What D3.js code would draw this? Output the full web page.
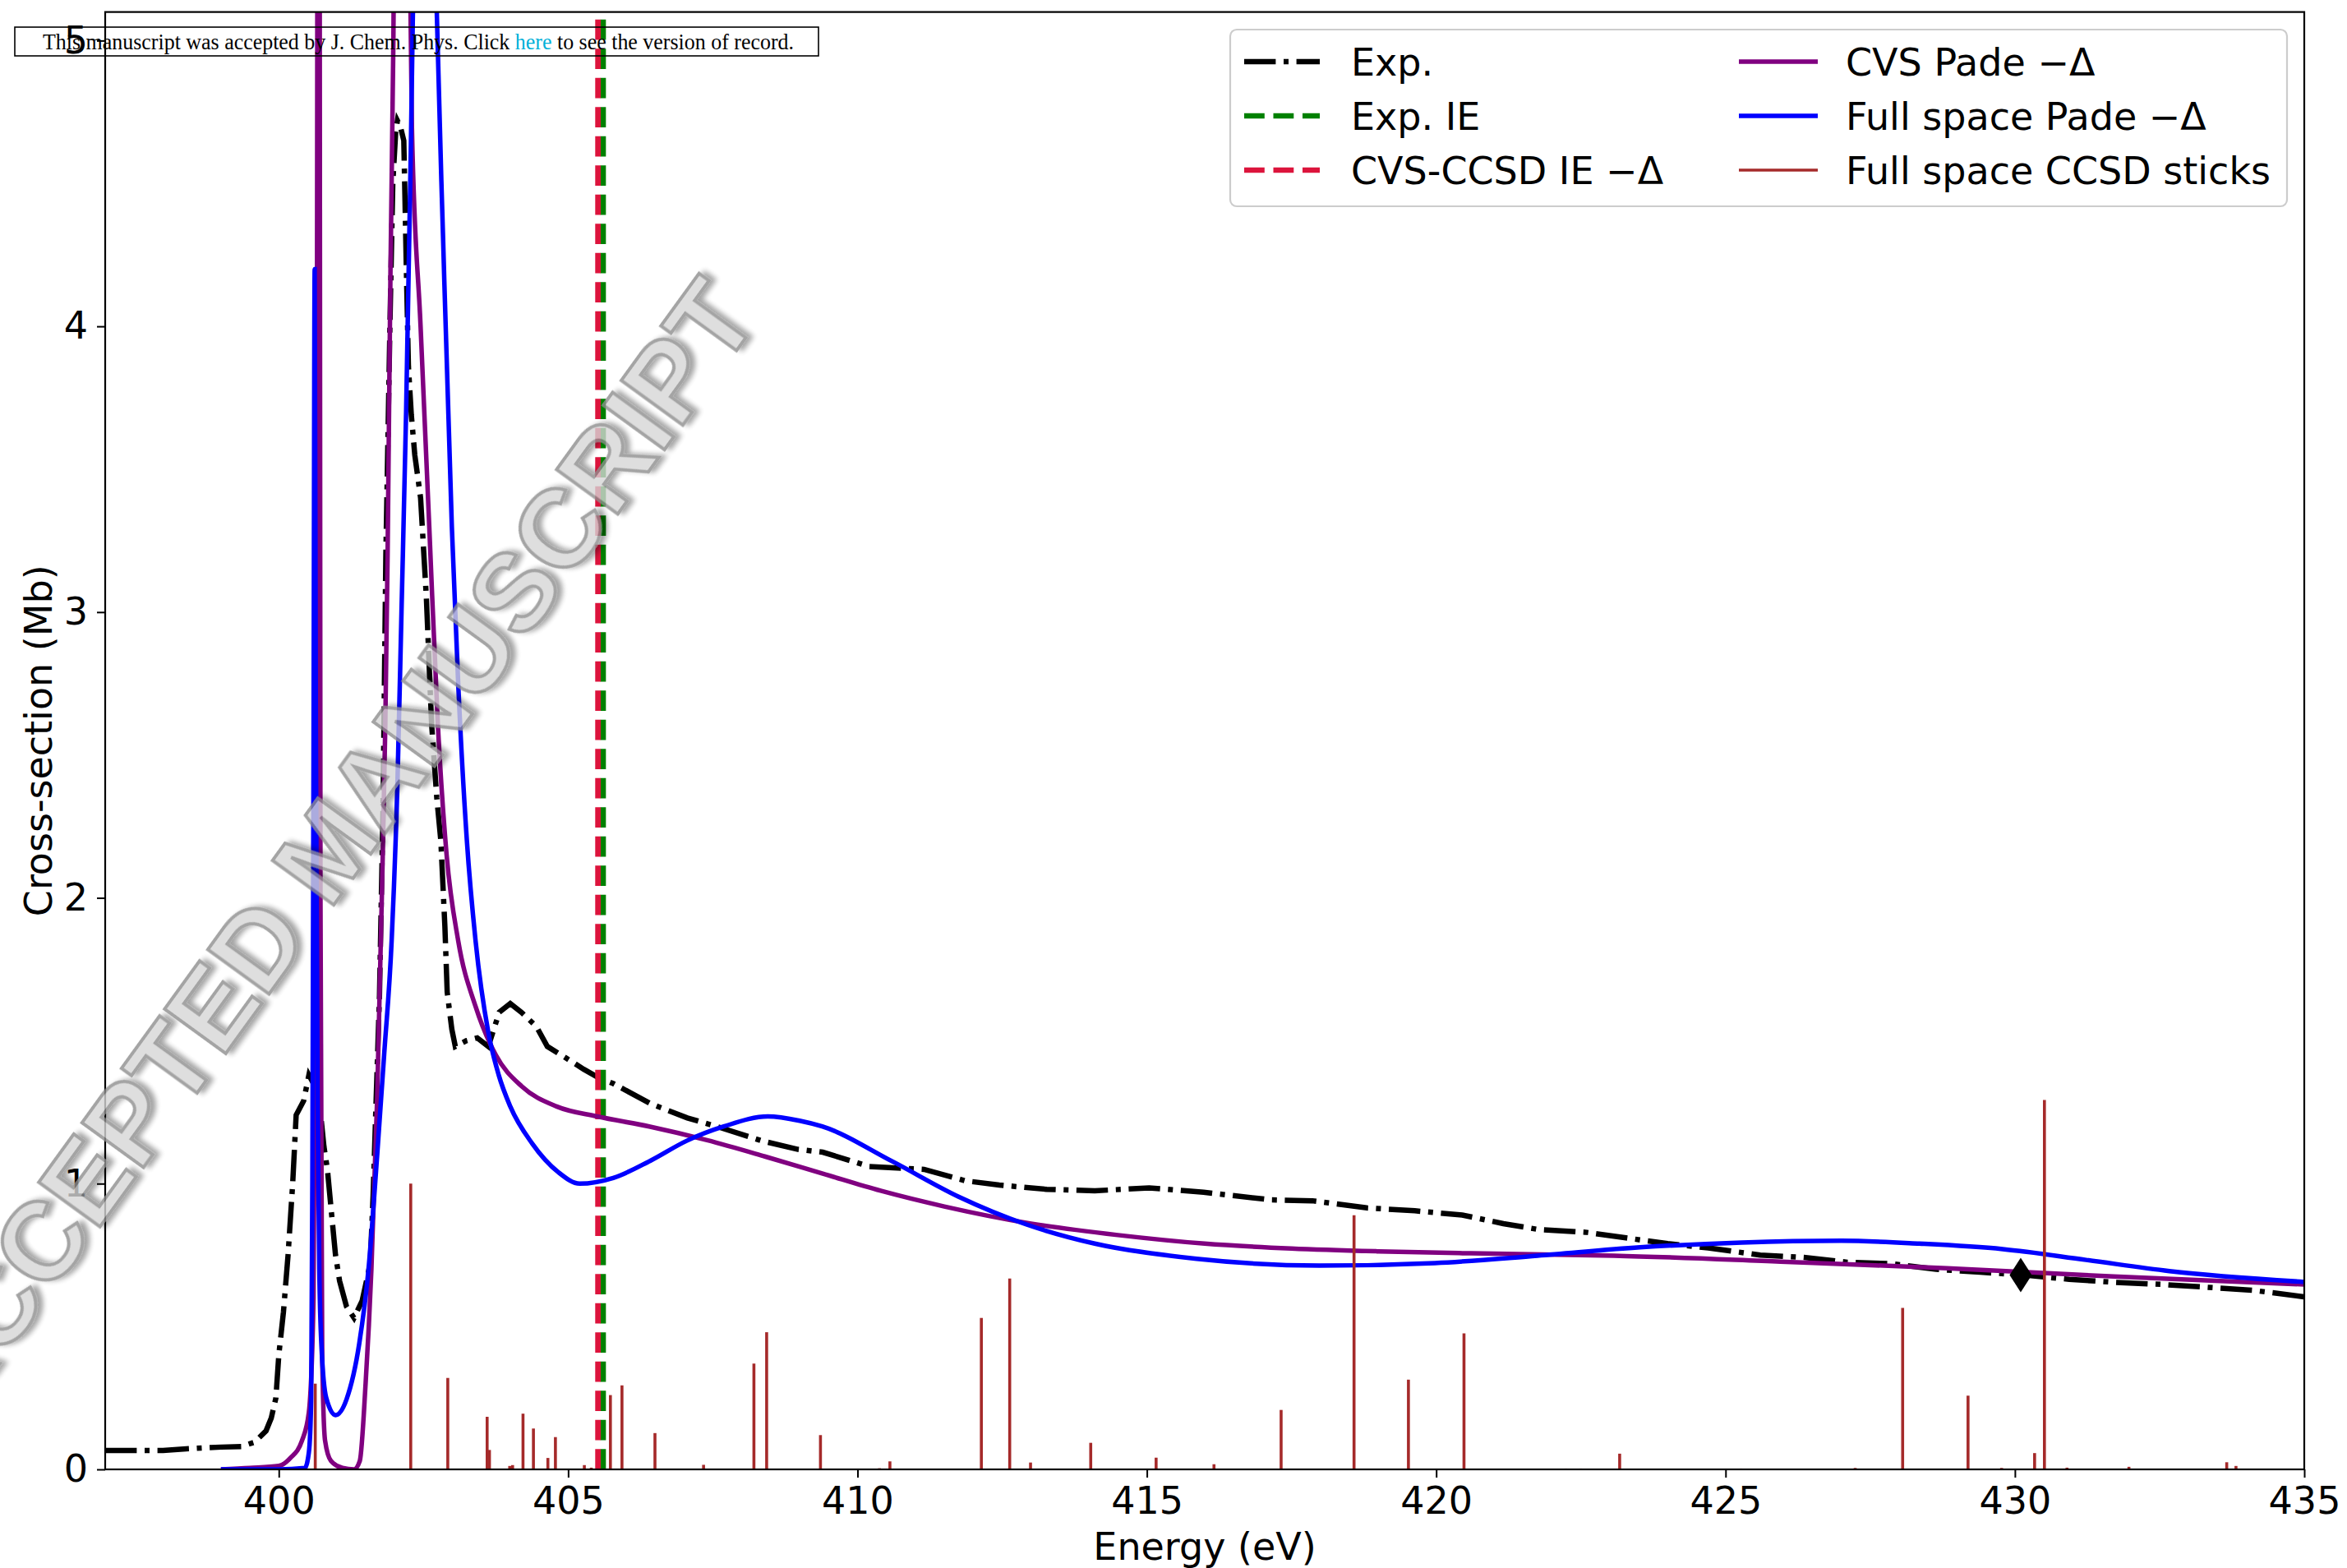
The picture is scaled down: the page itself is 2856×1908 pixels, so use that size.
<!DOCTYPE html>
<html>
<head>
<meta charset="utf-8">
<script src="https://cdn.jsdelivr.net/npm/d3@7"></script>
<style>
  html, body { margin: 0; padding: 0; background: #ffffff; }
  svg { display: block; }
</style>
</head>
<body>
<script>
// ---- data -------------------------------------------------------------
const expEnergy = [397.0, 397.6, 398.0, 398.4, 399.0, 399.35, 399.58, 399.78, 399.87, 399.95, 400.0, 400.08, 400.16, 400.24, 400.3, 400.43, 400.52, 400.6, 400.68, 400.73, 400.78, 400.84, 400.9, 400.98, 401.05, 401.17, 401.3, 401.44, 401.58, 401.63, 401.68, 401.74, 401.8, 401.85, 401.92, 401.97, 402.02, 402.05, 402.1, 402.16, 402.18, 402.2, 402.24, 402.29, 402.35, 402.45, 402.55, 402.64, 402.73, 402.8, 402.87, 402.91, 402.99, 403.05, 403.24, 403.43, 403.62, 403.81, 404.0, 404.19, 404.45, 404.64, 404.96, 405.27, 405.53, 405.78, 406.42, 407.06, 407.57, 408.34, 408.97, 409.4, 410.2, 411.15, 411.86, 412.45, 413.27, 414.1, 415.04, 415.98, 417.15, 417.86, 418.8, 419.63, 420.45, 421.16, 421.75, 422.58, 423.28, 424.0, 424.7, 425.6, 426.35, 427.1, 427.87, 428.64, 429.4, 430.17, 430.94, 431.7, 432.57, 433.43, 434.1, 435.0];
const expCross = [0.066, 0.066, 0.066, 0.072, 0.078, 0.08, 0.095, 0.135, 0.18, 0.25, 0.4, 0.55, 0.75, 1.0, 1.24, 1.29, 1.38, 1.35, 1.28, 1.23, 1.13, 1.05, 0.92, 0.75, 0.66, 0.57, 0.53, 0.59, 0.72, 0.96, 1.28, 1.66, 2.3, 3.2, 4.0, 4.5, 4.68, 4.72, 4.7, 4.65, 4.45, 4.24, 3.86, 3.69, 3.55, 3.4, 3.05, 2.61, 2.35, 2.2, 1.9, 1.67, 1.54, 1.48, 1.5, 1.51, 1.48, 1.6, 1.63, 1.6, 1.55, 1.48, 1.44, 1.4, 1.37, 1.35, 1.28, 1.23, 1.2, 1.15, 1.12, 1.11, 1.06, 1.05, 1.01, 0.995, 0.98, 0.975, 0.985, 0.97, 0.943, 0.94, 0.915, 0.905, 0.89, 0.86, 0.84, 0.83, 0.81, 0.79, 0.775, 0.75, 0.742, 0.725, 0.72, 0.7, 0.69, 0.68, 0.665, 0.655, 0.647, 0.636, 0.627, 0.604];

const cvsEnergy = [399.0, 399.5, 400.0, 400.2, 400.4, 400.52, 400.6, 400.65, 400.69, 400.72, 400.75, 400.8, 400.9, 401.1, 401.3, 401.4, 401.5, 401.6, 401.7, 401.78, 401.84, 401.88, 401.93, 401.98, 402.05, 402.12, 402.2, 402.3, 402.45, 402.6, 402.75, 402.9, 403.1, 403.4, 403.75, 404.2, 404.8, 405.5, 406.4, 407.4, 408.4, 409.4, 410.4, 411.5, 413.0, 414.5, 416.0, 417.5, 419.0, 420.6, 423.07, 425.95, 428.83, 431.71, 435.0];
const cvsCross = [0.0, 0.005, 0.012, 0.04, 0.1, 0.2, 0.6, 2.5, 9.0, 2.0, 0.4, 0.1, 0.03, 0.005, 0.0, 0.03, 0.3, 0.7, 1.3, 2.0, 2.6, 3.2, 4.2, 5.0, 7.0, 8.0, 6.5, 4.7, 4.0, 3.3, 2.6, 2.15, 1.85, 1.62, 1.45, 1.34, 1.27, 1.235, 1.2, 1.152, 1.095, 1.035, 0.975, 0.92, 0.86, 0.82, 0.79, 0.773, 0.763, 0.756, 0.748, 0.727, 0.704, 0.675, 0.647];

const fullEnergy = [399.0, 400.0, 400.45, 400.52, 400.56, 400.58, 400.6, 400.62, 400.64, 400.67, 400.7, 400.74, 400.82, 400.98, 401.17, 401.39, 401.55, 401.7, 401.82, 401.95, 402.05, 402.12, 402.2, 402.28, 402.34, 402.5, 402.68, 402.73, 402.84, 402.99, 403.1, 403.25, 403.4, 403.62, 403.8, 404.0, 404.38, 404.83, 405.2, 405.78, 406.42, 407.05, 407.69, 408.45, 409.0, 409.39, 410.6, 411.74, 412.92, 414.1, 415.86, 417.98, 419.98, 421.75, 423.52, 425.28, 427.0, 428.35, 429.79, 431.23, 432.67, 435.0];
const fullCross = [0.0, 0.0, 0.005, 0.06, 0.25, 1.0, 2.5, 4.2, 2.6, 1.3, 0.7, 0.42, 0.25, 0.19, 0.245, 0.44, 0.7, 1.1, 1.45, 1.85, 2.4, 3.0, 3.7, 4.6, 5.4, 8.0, 5.6, 5.1, 4.3, 3.3, 2.75, 2.2, 1.85, 1.53, 1.38, 1.27, 1.14, 1.04, 1.0, 1.02, 1.08, 1.15, 1.2, 1.235, 1.22, 1.2, 1.078, 0.955, 0.857, 0.79, 0.737, 0.713, 0.722, 0.748, 0.777, 0.794, 0.8, 0.79, 0.771, 0.733, 0.694, 0.656];

const stickEnergy = [400.63, 402.28, 402.92, 403.6, 403.64, 403.99, 404.04, 404.22, 404.4, 404.65, 404.78, 405.28, 405.4, 405.73, 405.93, 406.5, 407.34, 408.21, 408.43, 409.36, 410.38, 410.56, 412.14, 412.63, 412.99, 414.03, 415.16, 416.16, 417.32, 418.58, 419.52, 420.48, 422.24, 422.5, 423.17, 425.27, 427.24, 428.06, 429.19, 429.77, 430.34, 430.51, 430.9, 431.97, 433.66, 433.82];
const stickStrength = [0.30, 1.0, 0.32, 0.184, 0.068, 0.012, 0.015, 0.195, 0.143, 0.04, 0.113, 0.015, 0.006, 0.26, 0.294, 0.127, 0.016, 0.37, 0.48, 0.12, 0.004, 0.028, 0.53, 0.668, 0.024, 0.093, 0.041, 0.018, 0.208, 0.889, 0.314, 0.476, 0.003, 0.003, 0.055, 0.003, 0.005, 0.565, 0.258, 0.005, 0.057, 1.293, 0.006, 0.009, 0.025, 0.012];

const expIE = 405.605;
const cvsIE = 405.515;
const markerPoint = [430.1, 0.68];

const xTicks = [400, 405, 410, 415, 420, 425, 430, 435];
const yTicks = [0, 1, 2, 3, 4, 5];

const legendItems = [
  { label: "Exp.", color: "#000000", dash: "38.4,9.6,6,9.6", width: 6.5 },
  { label: "Exp. IE", color: "#008000", dash: "24.8,10.7", width: 6.7 },
  { label: "CVS-CCSD IE \u2212\u0394", color: "#dc143c", dash: "24.8,10.7", width: 6.7 },
  { label: "CVS Pade \u2212\u0394", color: "#800080", dash: null, width: 5.5 },
  { label: "Full space Pade \u2212\u0394", color: "#0000ff", dash: null, width: 5.5 },
  { label: "Full space CCSD sticks", color: "#a52a2a", dash: null, width: 3.6 }
];

// ---- layout -----------------------------------------------------------
const W = 2856, H = 1908;
const plot = { left: 128, right: 2804, top: 14.6, bottom: 1788 };
const font = "'DejaVu Sans', sans-serif";
const fs = 46;

const svg = d3.select("body").append("svg")
  .attr("width", W).attr("height", H)
  .attr("viewBox", `0 0 ${W} ${H}`);

svg.append("rect").attr("width", W).attr("height", H).attr("fill", "#ffffff");

const x = d3.scaleLinear().domain([397, 435]).range([plot.left, plot.right]);
const y = d3.scaleLinear().domain([0, 5.1]).range([plot.bottom, plot.top]);

const defs = svg.append("defs");
defs.append("clipPath").attr("id", "plot-clip")
  .append("rect")
  .attr("x", plot.left).attr("y", plot.top)
  .attr("width", plot.right - plot.left).attr("height", plot.bottom - plot.top);

const shadow = defs.append("filter").attr("id", "wm-shadow")
  .attr("x", "-10%").attr("y", "-10%").attr("width", "120%").attr("height", "120%");
shadow.append("feGaussianBlur").attr("in", "SourceAlpha").attr("stdDeviation", 3).attr("result", "blur");
shadow.append("feOffset").attr("in", "blur").attr("dx", 5).attr("dy", 5).attr("result", "off");
shadow.append("feComponentTransfer").attr("in", "off").attr("result", "shade")
  .append("feFuncA").attr("type", "linear").attr("slope", 0.45);
const merge = shadow.append("feMerge");
merge.append("feMergeNode").attr("in", "shade");
merge.append("feMergeNode").attr("in", "SourceGraphic");

const plotArea = svg.append("g").attr("clip-path", "url(#plot-clip)");

const zip = (xs, ys) => xs.map((v, i) => [v, ys[i]]);

// experimental spectrum
plotArea.append("path")
  .datum(zip(expEnergy, expCross))
  .attr("fill", "none").attr("stroke", "#000000")
  .attr("stroke-width", 6.5).attr("stroke-dasharray", "38.4,9.6,6,9.6")
  .attr("d", d3.line().x(d => x(d[0])).y(d => y(d[1])));

// ionisation energies
[[expIE, "#008000"], [cvsIE, "#dc143c"]].forEach(([e, c]) => {
  plotArea.append("line")
    .attr("x1", x(e)).attr("x2", x(e))
    .attr("y1", y(0)).attr("y2", y(5.1))
    .attr("stroke", c).attr("stroke-width", 6.7)
    .attr("stroke-dasharray", "24.8,10.7");
});

// Pade spectra
const smooth = d3.line().curve(d3.curveMonotoneX).x(d => x(d[0])).y(d => y(d[1]));
plotArea.append("path")
  .datum(zip(cvsEnergy, cvsCross))
  .attr("fill", "none").attr("stroke", "#800080").attr("stroke-width", 5.5)
  .attr("d", smooth);
plotArea.append("path")
  .datum(zip(fullEnergy, fullCross))
  .attr("fill", "none").attr("stroke", "#0000ff").attr("stroke-width", 5.5)
  .attr("d", smooth);

// CCSD sticks
plotArea.selectAll("line.stick")
  .data(zip(stickEnergy, stickStrength))
  .join("line").attr("class", "stick")
  .attr("x1", d => x(d[0])).attr("x2", d => x(d[0]))
  .attr("y1", y(0)).attr("y2", d => y(d[1]))
  .attr("stroke", "#a52a2a").attr("stroke-width", 3.6);

// thin diamond marker
plotArea.append("path")
  .attr("transform", `translate(${x(markerPoint[0])},${y(markerPoint[1])})`)
  .attr("d", "M0,-21L13.5,0L0,21L-13.5,0Z")
  .attr("fill", "#000000");

// ---- axes -------------------------------------------------------------
const xAxis = svg.append("g")
  .attr("transform", `translate(0,${plot.bottom})`)
  .call(d3.axisBottom(x).tickValues(xTicks).tickFormat(d3.format("d")).tickSize(10).tickPadding(11));
const yAxis = svg.append("g")
  .attr("transform", `translate(${plot.left},0)`)
  .call(d3.axisLeft(y).tickValues(yTicks).tickFormat(d3.format("d")).tickSize(10).tickPadding(11));
[xAxis, yAxis].forEach(g => {
  g.select(".domain").remove();
  g.selectAll(".tick line").attr("stroke", "#000").attr("stroke-width", 2);
  g.selectAll(".tick text").attr("font-family", font).attr("font-size", fs).attr("fill", "#000");
});

// frame
svg.append("rect")
  .attr("x", plot.left).attr("y", plot.top)
  .attr("width", plot.right - plot.left).attr("height", plot.bottom - plot.top)
  .attr("fill", "none").attr("stroke", "#000").attr("stroke-width", 2.2);

svg.append("text")
  .attr("x", (plot.left + plot.right) / 2).attr("y", 1898)
  .attr("text-anchor", "middle")
  .attr("font-family", font).attr("font-size", fs)
  .text("Energy (eV)");

svg.append("text")
  .attr("transform", `translate(63,${(plot.top + plot.bottom) / 2}) rotate(-90)`)
  .attr("text-anchor", "middle")
  .attr("font-family", font).attr("font-size", fs)
  .text("Cross-section (Mb)");

// ---- legend -----------------------------------------------------------
const legend = svg.append("g");
legend.append("rect")
  .attr("x", 1497).attr("y", 36).attr("width", 1286).attr("height", 215)
  .attr("rx", 8).attr("ry", 8)
  .attr("fill", "#ffffff").attr("fill-opacity", 0.8)
  .attr("stroke", "#cccccc").attr("stroke-width", 2.2);
const rowY = [75, 141, 207];
const colX = [{ h0: 1514, h1: 1606, t: 1644 }, { h0: 2116, h1: 2212, t: 2246 }];
legendItems.forEach((item, i) => {
  const col = colX[Math.floor(i / 3)];
  const yy = rowY[i % 3];
  legend.append("line")
    .attr("x1", col.h0).attr("x2", col.h1).attr("y1", yy).attr("y2", yy)
    .attr("stroke", item.color).attr("stroke-width", item.width)
    .attr("stroke-dasharray", item.dash);
  legend.append("text")
    .attr("x", col.t).attr("y", yy).attr("dy", "0.36em")
    .attr("font-family", font).attr("font-size", fs)
    .text(item.label);
});

// ---- watermark and banner --------------------------------------------
svg.append("text")
  .attr("transform", "translate(397,1032) rotate(-54)")
  .attr("text-anchor", "middle").attr("dy", "0.36em")
  .attr("font-family", "'Liberation Sans', Arial, sans-serif")
  .attr("font-weight", "bold").attr("font-size", 134)
  .attr("fill", "#d6d6d6").attr("stroke", "#8e8e8e").attr("stroke-width", 4)
  .attr("opacity", 0.8)
  .attr("filter", "url(#wm-shadow)")
  .text("ACCEPTED MANUSCRIPT");

svg.append("rect")
  .attr("x", 18).attr("y", 33).attr("width", 978).attr("height", 35)
  .attr("fill", "none").attr("stroke", "#000").attr("stroke-width", 1.6);
const banner = svg.append("text")
  .attr("x", 52).attr("y", 60)
  .attr("font-family", "'Liberation Serif', 'Times New Roman', serif")
  .attr("font-size", 27)
  .attr("textLength", 914).attr("lengthAdjust", "spacingAndGlyphs")
  .attr("fill", "#000");
banner.append("tspan").text("This manuscript was accepted by J. Chem. Phys. Click ");
banner.append("tspan").attr("fill", "#00b0d8").text("here");
banner.append("tspan").text(" to see the version of record.");
</script>
</body>
</html>
